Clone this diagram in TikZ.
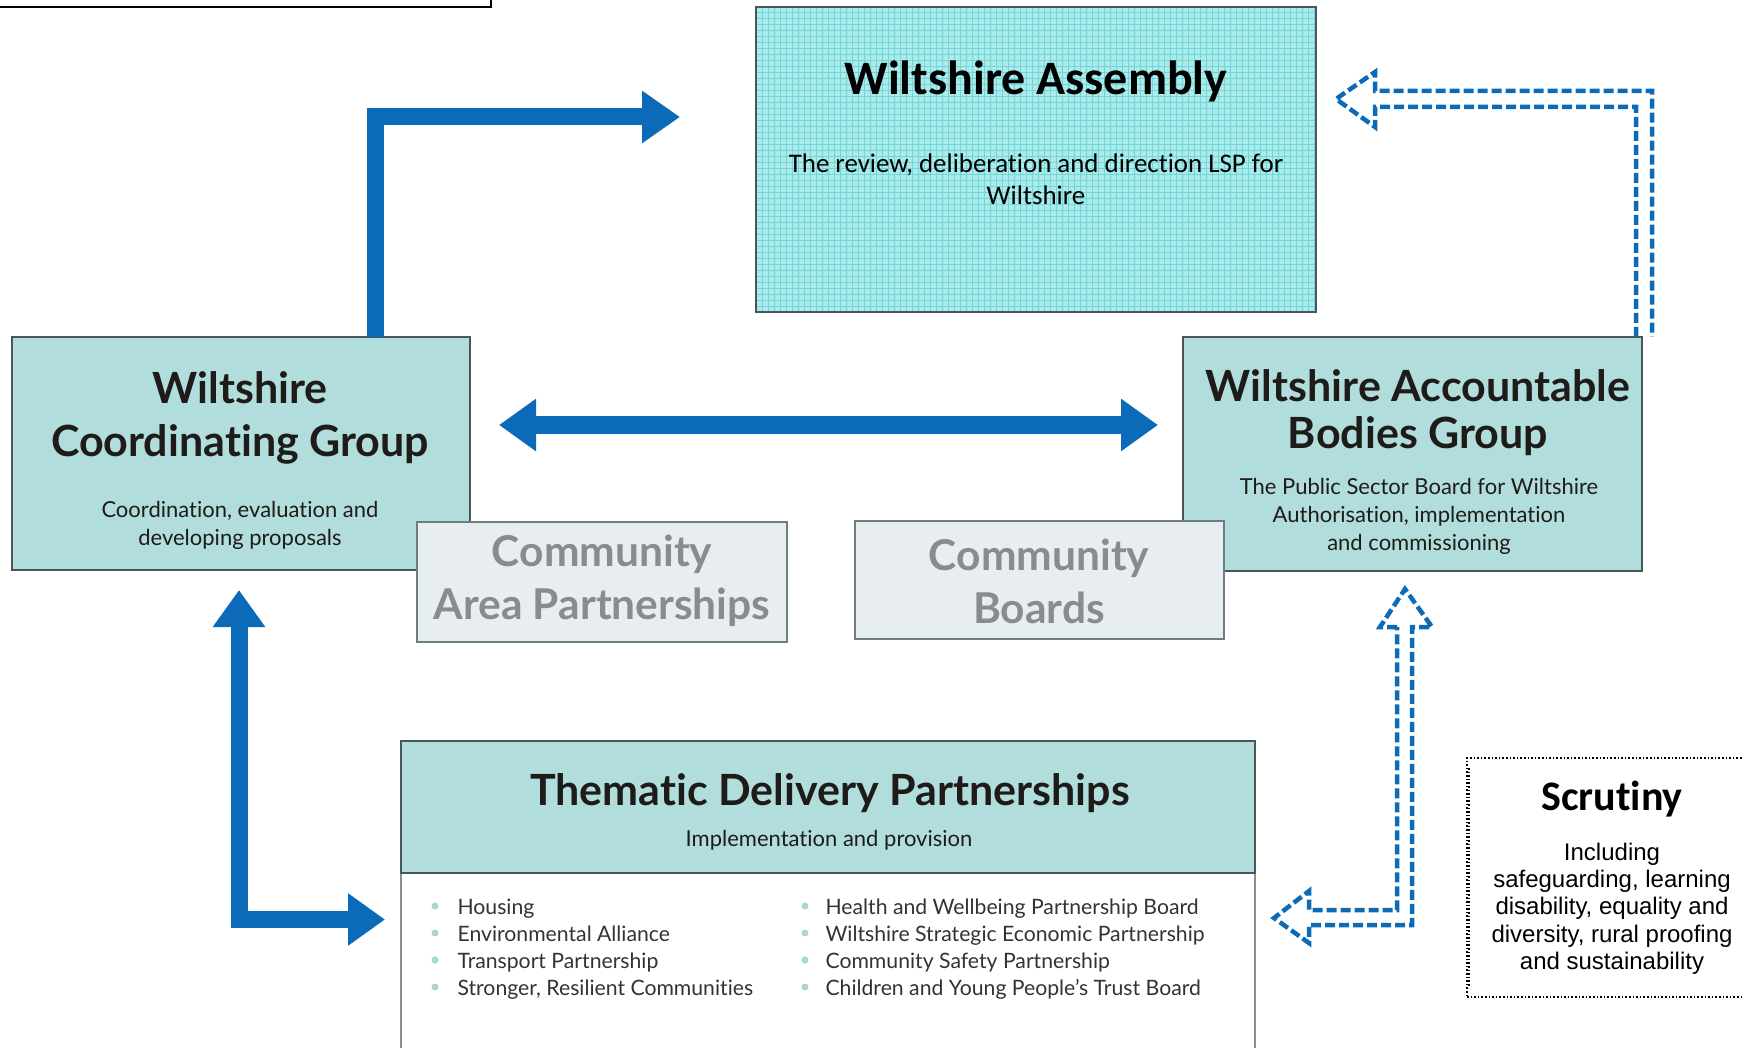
\documentclass[tikz,border=0pt]{standalone}
\usepackage{fontspec}
\setmainfont{Lato}
\newfontfamily\gill[Ligatures={NoCommon,NoContextual}]{Lato}
\newfontfamily\calib[Ligatures={NoCommon,NoContextual}]{Carlito}
\newfontfamily\arial{Liberation Sans}
\usetikzlibrary{arrows.meta,calc}
\definecolor{arrblue}{HTML}{0B6BB8}
\definecolor{tealfill}{HTML}{B1DEDD}
\definecolor{boxline}{HTML}{4A5659}
\definecolor{capfill}{HTML}{E8EDF0}
\definecolor{capline}{HTML}{6C7D84}
\definecolor{captext}{HTML}{878C90}
\definecolor{asmfill}{HTML}{ACEBEB}
\definecolor{asmgrid}{HTML}{72D6D6}
\definecolor{bulletc}{HTML}{A8D8D6}
\definecolor{txtc}{HTML}{1E1B19}
\definecolor{listc}{HTML}{333333}
\definecolor{bodyline}{HTML}{8A8F92}
\tikzset{
  boxnode/.style={inner sep=0pt, outer sep=0pt},
  tealbox/.style={boxnode, fill=tealfill, draw=boxline, line width=1.5pt},
  capbox/.style={boxnode, fill=capfill, draw=capline, line width=2.6pt},
  headA/.style={anchor=base, text=txtc, font=\gill\bfseries\fontsize{43}{48}\selectfont},
  captxt/.style={anchor=base, text=captext, font=\gill\bfseries\fontsize{42.5}{48}\selectfont},
  bodytxt/.style={anchor=base, text=txtc, font=\gill\fontsize{22}{26}\selectfont},
  listtxt/.style={anchor=base west, text=listc, font=\gill\fontsize{21.2}{26}\selectfont},
  bul/.style={circle, fill=bulletc, inner sep=0pt, minimum size=7pt},
  solidarr/.style={draw=arrblue, line width=17pt, line join=miter, -{Triangle[length=38pt,width=50pt]}},
  solidarrtwo/.style={draw=arrblue, line width=17pt, line join=miter, {Triangle[length=37pt,width=50pt]}-{Triangle[length=37pt,width=50pt]}},
  dasharr/.style={draw=arrblue, line width=4.5pt, dash pattern=on 10pt off 4pt, line join=miter},
  scrtxt/.style={anchor=base, text=black, font=\arial\fontsize{24}{27}\selectfont}
}
\begin{document}
\begin{tikzpicture}[x=1pt,y=-1pt]
\useasboundingbox (0,0) rectangle (1743,1048);
\clip (0,0) rectangle (1743,1048);
% partial box top-left
\node[boxnode, draw=black, line width=2pt, minimum width=520pt, minimum height=40pt] (tl) at (231,-13) {};
% Wiltshire Assembly
\node[boxnode, fill=asmfill, minimum width=560pt, minimum height=305pt] (asm) at (1036,159.5) {};
\begin{scope}
\clip (asm.south west) rectangle (asm.north east);
\draw[asmgrid, line width=0.7pt] (750,1) grid[step=6pt] (1322,318);
\end{scope}
\draw[boxline, line width=1.5pt] (asm.south west) rectangle (asm.north east);
\node[anchor=base, text=black, font=\calib\bfseries\fontsize{48}{56}\selectfont] (asmT) at (1036,95) {Wiltshire Assembly};
\node[anchor=base, text=black, font=\calib\fontsize{26.9}{32}\selectfont] (asmS1) at (1036,173) {The review, deliberation and direction LSP for};
\node[anchor=base, text=black, font=\calib\fontsize{26.9}{32}\selectfont] (asmS2) at (1036,205) {Wiltshire};
% Coordinating group
\node[tealbox, minimum width=458pt, minimum height=233pt] (cg) at (241,453.5) {};
\node[headA] (cgT1) at (240,403) {Wiltshire};
\node[headA] (cgT2) at (240,456) {Coordinating Group};
\node[bodytxt] (cgB1) at (240,517) {Coordination, evaluation and};
\node[bodytxt] (cgB2) at (240,545) {developing proposals};
% Accountable bodies group
\node[tealbox, minimum width=459pt, minimum height=234pt] (ab) at (1412.5,454) {};
\node[headA] (abT1) at (1418,402) {Wiltshire Accountable};
\node[headA] (abT2) at (1418,448) {Bodies Group};
\node[bodytxt] (abB1) at (1419,494) {The Public Sector Board for Wiltshire};
\node[bodytxt] (abB2) at (1419,522) {Authorisation, implementation};
\node[bodytxt] (abB3) at (1419,550) {and commissioning};
% Community boxes
\node[capbox, minimum width=370pt, minimum height=120pt] (cap) at (602,582) {};
\node[captxt] (capT1) at (602,566) {Community};
\node[captxt] (capT2) at (602,619) {Area Partnerships};
\node[capbox, minimum width=369pt, minimum height=118pt] (cb) at (1039.5,580) {};
\node[captxt] (cbT1) at (1039,570) {Community};
\node[captxt] (cbT2) at (1039,623) {Boards};
% Thematic delivery partnerships
\node[boxnode, fill=white, draw=bodyline, line width=1.5pt, minimum width=854pt, minimum height=220pt] (tdpb) at (828,983) {};
\node[tealbox, minimum width=854pt, minimum height=132pt] (tdp) at (828,807) {};
\node[headA] (tdpT) at (830,805) {Thematic Delivery Partnerships};
\node[bodytxt] (tdpS) at (829,846) {Implementation and provision};
\foreach \t [count=\i] in {Housing, Environmental Alliance, Transport Partnership, {Stronger, Resilient Communities}} {
  \node[bul] (bl\i) at (435,{914+27*(\i-1)-8}) {};
  \node[listtxt] (ll\i) at (454,{914+27*(\i-1)}) {\t};
}
\foreach \t [count=\i] in {Health and Wellbeing Partnership Board, Wiltshire Strategic Economic Partnership, Community Safety Partnership, Children and Young People’s Trust Board} {
  \node[bul] (br\i) at (805,{914+27*(\i-1)-8}) {};
  \node[listtxt] (lr\i) at (822,{914+27*(\i-1)}) {\t};
}
% Scrutiny
\node[boxnode, draw=black, line width=1.6pt, dotted, minimum width=340pt, minimum height=239pt] (scr) at (1637,877.5) {};
\draw[black, line width=1.6pt, dotted] ($(scr.north west)+(2,10)$) -- ($(scr.south west)+(2,-10)$);
\node[anchor=base, text=black, font=\calib\bfseries\fontsize{42}{48}\selectfont] (scrT) at (1612,810) {Scrutiny};
\node[scrtxt] (scr1) at (1612,860) {Including};
\node[scrtxt] (scr2) at (1612,887) {safeguarding, learning};
\node[scrtxt] (scr3) at (1612,914) {disability, equality and};
\node[scrtxt] (scr4) at (1612,942) {diversity, rural proofing};
\node[scrtxt] (scr5) at (1612,969) {and sustainability};
% solid arrows
\coordinate (a1) at (375,117);
\coordinate (a1end) at (680,117);
\draw[solidarr] (cg.north -| a1) |- (a1end);
\coordinate (h1) at (499,425);
\coordinate (h2) at (1158,425);
\draw[solidarrtwo] (h1) -- (h2);
\coordinate (l1) at (239,590);
\coordinate (l2) at (385,919.5);
\draw[solidarrtwo] (l1) |- (l2);
% dashed hollow arrows
\draw[dasharr] ($(ab.north east)+(-6,0)$) |- (1375,107) -- (1375,127) -- (1336,99) -- (1375,72) -- (1375,91) -| ($(ab.north east)+(10,0)$);
\draw[dasharr] (1397,627) -- (1380,627) -- (1405,589) -- (1432,627) -- (1412,627) -- (1412,925) -- (1309,925) -- (1309,943) -- (1274,918) -- (1309,891) -- (1309,910) -- (1397,910) -- cycle;
\end{tikzpicture}
\end{document}
